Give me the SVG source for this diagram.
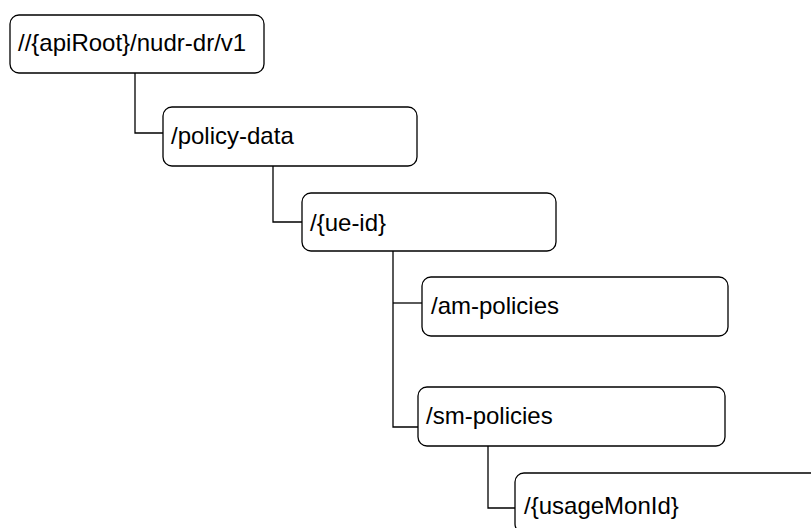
<svg xmlns="http://www.w3.org/2000/svg" width="811" height="528" viewBox="0 0 811 528">
<style>
.box{fill:#fff;stroke:#000;stroke-width:1.3}
.lbl{font-family:"Liberation Sans",Arial,sans-serif;font-size:24px;fill:#000}
.conn{fill:none;stroke:#000;stroke-width:1.3}
</style>
<rect width="811" height="528" fill="#fff"/>
<g id="connectors">
<path class="conn" d="M135,73 V133 H163"/>
<path class="conn" d="M273,166 V222 H302"/>
<path class="conn" d="M393,251 V427 H418"/>
<path class="conn" d="M393,303 H422"/>
<path class="conn" d="M488,446 V508 H515"/>
</g>
<g id="n1"><rect class="box" x="10" y="15" width="254" height="58" rx="9"/><text class="lbl" x="18" y="51">//{apiRoot}/nudr-dr/v1</text></g>
<g id="n2"><rect class="box" x="163" y="107" width="254" height="59" rx="9"/><text class="lbl" x="171" y="144">/policy-data</text></g>
<g id="n3"><rect class="box" x="302" y="193" width="254" height="58" rx="9"/><text class="lbl" x="310" y="231">/{ue-id}</text></g>
<g id="n4"><rect class="box" x="422" y="277" width="306" height="59" rx="9"/><text class="lbl" x="431" y="314">/am-policies</text></g>
<g id="n5"><rect class="box" x="418" y="387" width="307" height="59" rx="9"/><text class="lbl" x="426" y="424">/sm-policies</text></g>
<g id="n6"><rect class="box" x="515" y="473" width="320" height="60" rx="9"/><text class="lbl" x="524" y="514">/{usageMonId}</text></g>
</svg>
